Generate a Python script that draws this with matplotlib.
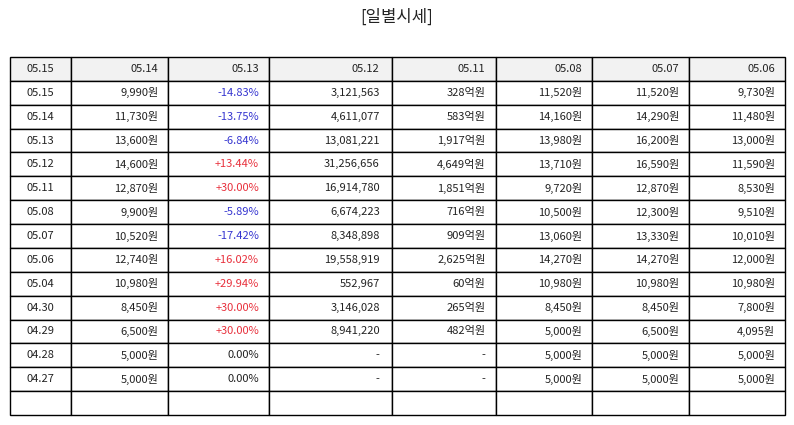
import matplotlib.pyplot as plt

plt.rcParams['font.family'] = ['Noto Sans CJK KR', 'DejaVu Sans']

# 헤더 (원본 차트 그대로)
header = ['05.15', '05.14', '05.13', '05.12', '05.11', '05.08', '05.07', '05.06']

dates = ['05.15', '05.14', '05.13', '05.12', '05.11', '05.08', '05.07',
         '05.06', '05.04', '04.30', '04.29', '04.28', '04.27']
close = ['9,990원', '11,730원', '13,600원', '14,600원', '12,870원', '9,900원',
         '10,520원', '12,740원', '10,980원', '8,450원', '6,500원', '5,000원', '5,000원']
change = ['-14.83%', '-13.75%', '-6.84%', '+13.44%', '+30.00%', '-5.89%',
          '-17.42%', '+16.02%', '+29.94%', '+30.00%', '+30.00%', '0.00%', '0.00%']
volume = ['3,121,563', '4,611,077', '13,081,221', '31,256,656', '16,914,780',
          '6,674,223', '8,348,898', '19,558,919', '552,967', '3,146,028',
          '8,941,220', '-', '-']
amount = ['328억원', '583억원', '1,917억원', '4,649억원', '1,851억원', '716억원',
          '909억원', '2,625억원', '60억원', '265억원', '482억원', '-', '-']
open_ = ['11,520원', '14,160원', '13,980원', '13,710원', '9,720원', '10,500원',
         '13,060원', '14,270원', '10,980원', '8,450원', '5,000원', '5,000원', '5,000원']
high = ['11,520원', '14,290원', '16,200원', '16,590원', '12,870원', '12,300원',
        '13,330원', '14,270원', '10,980원', '8,450원', '6,500원', '5,000원', '5,000원']
low = ['9,730원', '11,480원', '13,000원', '11,590원', '8,530원', '9,510원',
       '10,010원', '12,000원', '10,980원', '7,800원', '4,095원', '5,000원', '5,000원']

col_widths = [61, 97, 101, 123, 104, 96, 97, 96]

rows = [list(r) for r in zip(dates, close, change, volume, amount, open_, high, low)]
rows.append([''] * 8)

fig = plt.figure(figsize=(7.94, 4.25), dpi=100)
ax = fig.add_axes([0, 0, 1, 1])
ax.axis('off')

W, H = 794, 425
tbl = ax.table(cellText=rows, colLabels=header,
               colWidths=[w / sum(col_widths) for w in col_widths],
               cellLoc='right', colLoc='right',
               bbox=[10 / W, 10 / H, 775 / W, 358 / H])
tbl.auto_set_font_size(False)
tbl.set_fontsize(8)

for (r, c), cell in tbl.get_celld().items():
    cell.set_edgecolor('black')
    cell.set_linewidth(1.0)
    txt = cell.get_text()
    txt.set_color('#222222')
    if r == 0:
        cell.set_facecolor('#f2f2f2')
    if c == 0:
        txt.set_ha('center')
        cell._loc = 'center'
    if c == 2 and r > 0:
        s = txt.get_text()
        if s.startswith('+'):
            txt.set_color('#e8303c')
        elif s.startswith('-'):
            txt.set_color('#3535d0')

fig.text(0.5, 1 - 17 / H, '[일별시세]', ha='center', va='center',
         fontsize=12, color='#222222')

fig.savefig('out.png', dpi=100)
